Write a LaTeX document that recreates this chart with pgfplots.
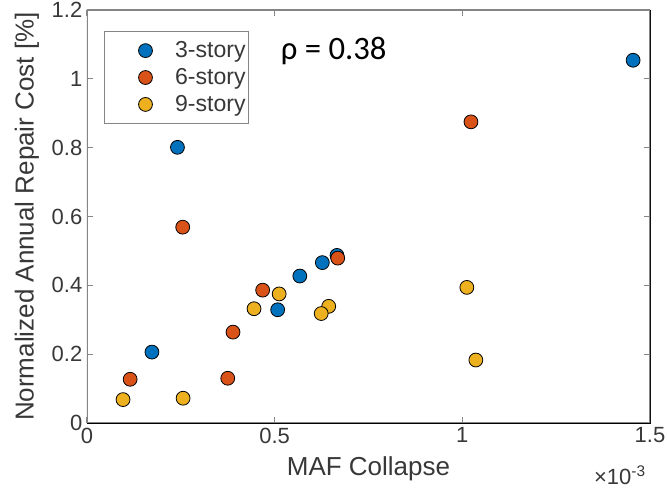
\documentclass[border=0pt]{standalone}
\usepackage{fontspec}
\setmainfont{Liberation Sans}
\newfontfamily\calibri{Carlito}
\usepackage{pgfplots}
\pgfplotsset{compat=1.18}
\definecolor{mblue}{rgb}{0,0.447,0.741}
\definecolor{morange}{rgb}{0.85,0.325,0.098}
\definecolor{myellow}{rgb}{0.929,0.694,0.125}
\colorlet{axgray}{black!48}
\colorlet{txtgray}{black!78}

\begin{document}
\begin{tikzpicture}
\begin{axis}[
  at={(0,0)}, anchor=south west,
  scale only axis, width=422.25pt, height=309.75pt,
  xmin=0, xmax=1.5e-3, ymin=0, ymax=1.2,
  xtick={0,0.5e-3,1e-3,1.5e-3},
  ytick={0,0.2,0.4,0.6,0.8,1,1.2},
  scaled x ticks=base 10:3,
  xtick scale label code/.code={×10\textsuperscript{#1}},
  every x tick scale label/.style={at={(rel axis cs:1,0)}, anchor=base east,
    yshift=-46.5pt, xshift=-3pt, inner sep=0pt,
    font=\fontsize{16.5}{18}\selectfont, text=txtgray},
  /pgf/number format/assume math mode=true,
  tick label style={font=\fontsize{16.5}{18}\selectfont, text=txtgray},
  tick align=inside, tick pos=both, major tick length=4.2pt,
  major tick style={draw=axgray, line width=0.75pt},
  xlabel={MAF Collapse},
  ylabel={Normalized Annual Repair Cost [\%]},
  every axis x label/.style={at={(rel axis cs:0.5,0)}, anchor=center,
    yshift=-34pt, font=\fontsize{19.5}{22}\selectfont, text=txtgray},
  every axis y label/.style={at={(rel axis cs:0,0.5)}, anchor=center,
    xshift=-45pt, rotate=90, font=\fontsize{19.5}{22}\selectfont, text=txtgray},
  legend style={at={(rel axis cs:0.0302,0.949)}, anchor=north west,
    draw=axgray, line width=0.75pt, inner xsep=0pt, inner ysep=5.5pt,
    row sep=2.6pt, column sep=0pt,
    font=\fontsize{17.3}{19}\selectfont, text=txtgray,
    cells={anchor=west, inner ysep=0pt}},
  legend image code/.code={%
    \path[draw=none, fill=none] (0pt,-4pt) rectangle (51pt,4pt);
    \draw[#1] plot coordinates {(30.75pt,0pt)};},
]
\addplot[only marks, mark=*, mark size=5.2pt,
  mark options={draw=black, line width=0.6pt, fill=mblue}] coordinates {
  (0.241e-3,0.801) (0.173e-3,0.206) (0.508e-3,0.329) (0.567e-3,0.427)
  (0.627e-3,0.466) (0.666e-3,0.487) (1.455e-3,1.054)};
\addlegendentry{3-story}
\addplot[only marks, mark=*, mark size=5.2pt,
  mark options={draw=black, line width=0.6pt, fill=morange}] coordinates {
  (0.255e-3,0.569) (0.115e-3,0.127) (0.375e-3,0.130) (0.389e-3,0.264)
  (0.468e-3,0.386) (0.668e-3,0.479) (1.023e-3,0.875)};
\addlegendentry{6-story}
\addplot[only marks, mark=*, mark size=5.2pt,
  mark options={draw=black, line width=0.6pt, fill=myellow}] coordinates {
  (0.096e-3,0.068) (0.256e-3,0.072) (0.445e-3,0.332) (0.512e-3,0.375)
  (0.644e-3,0.339) (0.624e-3,0.318) (1.012e-3,0.394) (1.036e-3,0.183)};
\addlegendentry{9-story}
\draw[axgray, line width=0.9pt] (rel axis cs:0,0) rectangle (rel axis cs:1,1);
\node[anchor=base west, inner sep=0pt, font=\calibri\fontsize{24.5}{28}\selectfont]
  at (rel axis cs:0.344,0.881) {ρ = 0.38};
\end{axis}
\pgfresetboundingbox
\path[use as bounding box] (-65.25pt,-51pt) rectangle (435pt,317.25pt);
\end{tikzpicture}
\end{document}
